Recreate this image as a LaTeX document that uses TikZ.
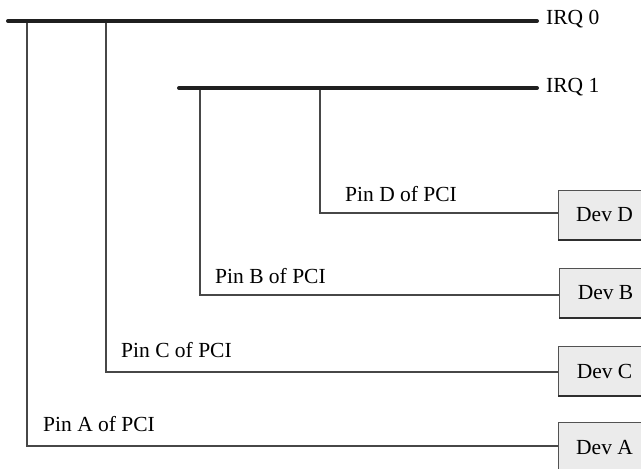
\documentclass[tikz,border=0pt]{standalone}
\usepackage{fontspec}
\setmainfont{Liberation Serif}
\begin{document}
\begin{tikzpicture}[x=1pt,y=-1pt,
  bus/.style={line width=4pt,line cap=round,draw=black!88},
  wire/.style={line width=1.1pt,draw=black!72},
  dev/.style={draw=black!68,line width=1.1pt,fill=black!8,minimum width=92pt,minimum height=49pt,anchor=north west,inner sep=0pt,font=\fontsize{21.5}{24}\selectfont},
  lbl/.style={font=\fontsize{21.5}{24}\selectfont,inner sep=0pt,anchor=west},
  pin/.style={font=\fontsize{21.5}{24}\selectfont,inner sep=0pt,anchor=base west}]
\useasboundingbox (0,0) rectangle (641,469);
\clip (0,0) rectangle (641,469);
% buses
\coordinate (i0s) at (8,21);
\coordinate (i0e) at (537,21);
\coordinate (i1s) at (179,88);
\coordinate (i1e) at (537,88);
\draw[bus] (i0s) -- (i0e);
\draw[bus] (i1s) -- (i1e);
\node[lbl] (irq0) at (546,19) {IRQ 0};
\node[lbl] (irq1) at (546,87) {IRQ 1};
% devices
\node[dev] (devD) at (558,190) {Dev D};
\node[dev] (devB) at (559,268) {Dev B};
\node[dev] (devC) at (558,346) {Dev C};
\node[dev] (devA) at (558,422) {Dev A};
\foreach \d in {devD,devB,devC,devA}
  \draw[line width=1.8pt,black!82] (\d.south west) -- (\d.south east);
% tap points
\coordinate (tA) at (27,23);
\coordinate (tC) at (106,23);
\coordinate (tB) at (200,90);
\coordinate (tD) at (320,90);
\coordinate (cA) at (27,446);
\coordinate (cC) at (106,372);
\coordinate (cB) at (200,295);
\coordinate (cD) at (320,213);
\draw[wire] (tA) -- (cA) -- (devA.west |- cA);
\draw[wire] (tC) -- (cC) -- (devC.west |- cC);
\draw[wire] (tB) -- (cB) -- (devB.west |- cB);
\draw[wire] (tD) -- (cD) -- (devD.west |- cD);
% pin labels
\node[pin] (pD) at (345,201) {Pin D of PCI};
\node[pin] (pB) at (215,283) {Pin B of PCI};
\node[pin] (pC) at (121,357) {Pin C of PCI};
\node[pin] (pA) at (43,431) {Pin A of PCI};
\end{tikzpicture}
\end{document}
